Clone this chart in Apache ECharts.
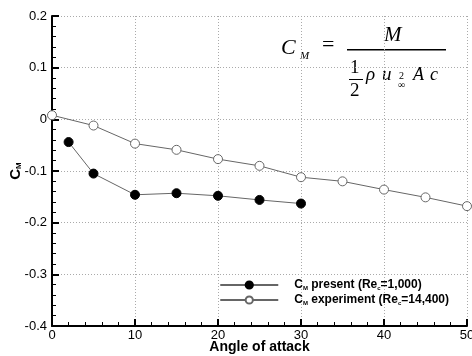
<!DOCTYPE html>
<html>
<head>
<meta charset="utf-8">
<script src="https://cdn.jsdelivr.net/npm/echarts@6/dist/echarts.min.js"></script>
<style>
  html, body { margin: 0; padding: 0; background: #fff; }
  #chart { width: 472px; height: 356px; }
</style>
</head>
<body>
<div id="chart"></div>
<script>
// angle of attack values
var presentAngles = [2, 5, 10, 15, 20, 25, 30];
var presentCm = [-0.044, -0.105, -0.146, -0.143, -0.148, -0.156, -0.163];
var expAngles = [0, 5, 10, 15, 20, 25, 30, 35, 40, 45, 50];
var expCm = [0.008, -0.012, -0.047, -0.059, -0.077, -0.090, -0.112, -0.120, -0.136, -0.151, -0.168];

var seriesNames = ['present', 'experiment'];
var legendLabels = {
  present: '{g|}{n|C}{s|M}{n| present (Re}{s|c}{n|=1,000)}',
  experiment: '{g|}{n|C}{s|M}{n| experiment (Re}{s|c}{n|=14,400)}'
};

function pairs(xs, ys) {
  return xs.map(function (x, i) { return [x, ys[i]]; });
}

var chart = echarts.init(document.getElementById('chart'));

var axisFont = { fontFamily: 'Liberation Sans', fontSize: 13, color: '#000' };
var serif = 'Liberation Serif';

var option = {
  animation: false,
  grid: { left: 52, right: 5, top: 16, bottom: 30, outerBoundsMode: 'none', containLabel: false },
  legend: {
    right: 18,
    top: 274,
    orient: 'vertical',
    itemWidth: 58,
    itemHeight: 9,
    itemGap: 3,
    data: seriesNames,
    formatter: function (name) { return legendLabels[name]; },
    textStyle: {
      rich: {
        g: { width: 11 },
        n: { fontFamily: 'Liberation Sans', fontSize: 12, fontWeight: 'bold', color: '#000' },
        s: { fontFamily: 'Liberation Sans', fontSize: 6, fontWeight: 'bold', color: '#000', verticalAlign: 'bottom', padding: [6, 0, 0, 0] }
      }
    }
  },
  xAxis: {
    type: 'value',
    min: 0, max: 50, interval: 10,
    name: 'Angle of attack',
    nameLocation: 'middle',
    nameGap: 14,
    nameMoveOverlap: false,
    nameTextStyle: { fontFamily: 'Liberation Sans', fontSize: 14, fontWeight: 'bold', color: '#000' },
    axisLine: { onZero: false, lineStyle: { color: '#000', width: 2 } },
    axisTick: { inside: true, length: 7, lineStyle: { color: '#000', width: 2 } },
    minorTick: { show: true, splitNumber: 5, length: 4, lineStyle: { color: '#000', width: 1 } },
    axisLabel: Object.assign({ margin: 3 }, axisFont),
    splitLine: { show: true, lineStyle: { color: '#aaa', type: [1, 2], width: 1 } }
  },
  yAxis: {
    type: 'value',
    min: -0.4, max: 0.2, interval: 0.1,
    name: '{c|C}{s|M}',
    nameLocation: 'middle',
    nameGap: 29,
    nameRotate: 90,
    nameMoveOverlap: false,
    nameTextStyle: {
      rich: {
        c: { fontFamily: 'Liberation Sans', fontSize: 15, fontWeight: 'bold', color: '#000' },
        s: { fontFamily: 'Liberation Sans', fontSize: 8, fontWeight: 'bold', color: '#000', verticalAlign: 'bottom', padding: [7, 0, 0, 0] }
      }
    },
    axisLine: { show: true, onZero: false, lineStyle: { color: '#000', width: 2 } },
    axisTick: { inside: true, length: 7, lineStyle: { color: '#000', width: 2 } },
    minorTick: { show: true, splitNumber: 5, length: 4, lineStyle: { color: '#000', width: 1 } },
    axisLabel: Object.assign({ margin: 5, formatter: function (v) { return String(Math.round(v * 10) / 10); } }, axisFont),
    splitLine: { show: true, lineStyle: { color: '#aaa', type: [1, 2], width: 1 } }
  },
  series: [
    {
      name: 'present',
      type: 'line',
      data: pairs(presentAngles, presentCm),
      symbol: 'circle',
      symbolSize: 9,
      showAllSymbol: true,
      lineStyle: { color: '#666', width: 1 },
      itemStyle: { color: '#000', borderColor: '#000', borderWidth: 1 },
      z: 3
    },
    {
      name: 'experiment',
      type: 'line',
      data: pairs(expAngles, expCm),
      symbol: 'circle',
      symbolSize: 9,
      showAllSymbol: true,
      lineStyle: { color: '#666', width: 1 },
      itemStyle: { color: '#fff', borderColor: '#666', borderWidth: 1 },
      z: 2
    }
  ],
  // formula box, top right
  graphic: [
    { type: 'text', left: 281, top: 37, style: { text: 'C', font: 'italic 22px ' + serif, fill: '#000' } },
    { type: 'text', left: 300, top: 51, style: { text: 'M', font: 'italic 11px ' + serif, fill: '#000' } },
    { type: 'text', left: 322, top: 34, style: { text: '=', font: '22px ' + serif, fill: '#000' } },
    { type: 'rect', shape: { x: 347, y: 49, width: 99, height: 1.5 }, style: { fill: '#000' } },
    { type: 'text', left: 384, top: 25, style: { text: 'M', font: 'italic 21px ' + serif, fill: '#000' } },
    { type: 'text', left: 350, top: 59, style: { text: '1', font: '19px ' + serif, fill: '#000' } },
    { type: 'rect', shape: { x: 349, y: 79, width: 14, height: 1 }, style: { fill: '#000' } },
    { type: 'text', left: 350, top: 82, style: { text: '2', font: '19px ' + serif, fill: '#000' } },
    { type: 'text', left: 366, top: 65, style: { text: 'ρ', font: 'italic 19px ' + serif, fill: '#000' } },
    { type: 'text', left: 382, top: 65, style: { text: 'u', font: 'italic 19px ' + serif, fill: '#000' } },
    { type: 'text', left: 399, top: 71, style: { text: '2', font: '10px ' + serif, fill: '#000' } },
    { type: 'text', left: 398, top: 80, style: { text: '∞', font: '10px ' + serif, fill: '#000' } },
    { type: 'text', left: 413, top: 66, style: { text: 'A', font: 'italic 18px ' + serif, fill: '#000' } },
    { type: 'text', left: 430, top: 66, style: { text: 'c', font: 'italic 18px ' + serif, fill: '#000' } }
  ]
};

chart.setOption(option);
</script>
</body>
</html>
